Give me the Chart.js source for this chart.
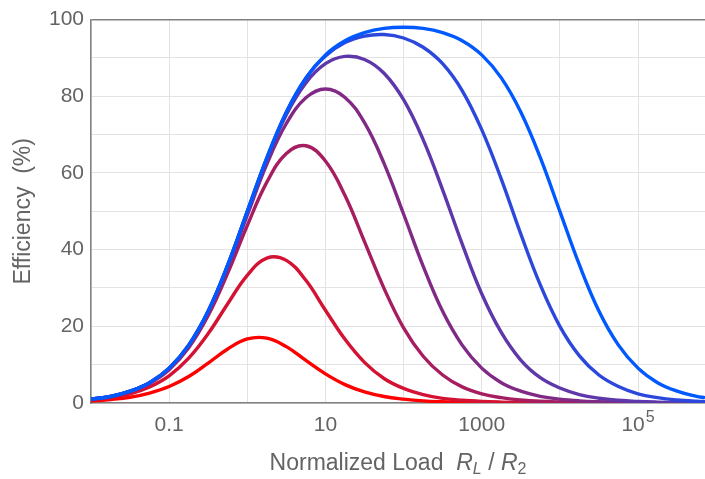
<!DOCTYPE html>
<html>
<head>
<meta charset="utf-8">
<script src="https://cdn.jsdelivr.net/npm/chart.js@4"></script>
<style>
  html, body { margin: 0; padding: 0; background: #fff; }
  canvas { display: block; }
</style>
</head>
<body>
<canvas id="myChart" width="705" height="479"></canvas>
<script>
// Normalized load R_L / R_2 (log axis)
const loads = [0.01, 0.0178, 0.0316, 0.0562, 0.1, 0.178, 0.316, 0.562, 1, 1.78, 3.16, 5.62,
  10, 17.8, 31.6, 56.2, 100, 178, 316, 562, 1000, 1780, 3160, 5620,
  10000, 17800, 31600, 56200, 100000, 178000, 316000, 562000, 720000]

// Efficiency (%), red (lowest) to blue (highest)
const eff1 = [0.5, 0.9, 1.5, 2.6, 4.3, 6.9, 10.4, 14.1, 16.7, 16.9, 14.7, 11.1,
  7.6, 4.8, 2.9, 1.7, 1.0, 0.55, 0.32, 0.18, 0.1, 0.06, 0.03, 0.02,
  0.01, 0, 0, 0, 0, 0, 0, 0, 0]
const eff2 = [0.8, 1.4, 2.4, 4.2, 7.1, 11.7, 18.1, 25.9, 33.3, 37.8, 37.2, 32.0,
  24.2, 16.6, 10.6, 6.4, 3.8, 2.2, 1.2, 0.7, 0.4, 0.23, 0.13, 0.07,
  0.04, 0.02, 0.01, 0, 0, 0, 0, 0, 0]
const eff3 = [0.95, 1.7, 2.9, 5.1, 8.7, 14.4, 22.8, 33.9, 46.3, 57.6, 65.1, 67.1,
  63.1, 54.1, 42.1, 29.9, 19.6, 12.2, 7.3, 4.2, 2.4, 1.4, 0.8, 0.44,
  0.25, 0.14, 0.08, 0.04, 0.03, 0.01, 0, 0, 0]
const eff4 = [1.0, 1.7, 3.0, 5.3, 9.0, 14.9, 23.7, 35.4, 49.0, 62.3, 72.9, 79.6,
  81.9, 79.7, 73.1, 62.5, 49.3, 35.7, 23.9, 15.1, 9.1, 5.3, 3.1, 1.75,
  1.0, 0.56, 0.32, 0.18, 0.1, 0.06, 0.03, 0.02, 0.01]
const eff5 = [1.0, 1.7, 3.1, 5.3, 9.1, 15.1, 23.9, 35.9, 49.8, 63.6, 75.2, 83.5,
  88.5, 90.4, 89.6, 86.0, 79.1, 68.7, 55.6, 41.5, 28.5, 18.4, 11.2, 6.6,
  3.9, 2.2, 1.25, 0.7, 0.4, 0.23, 0.13, 0.07, 0.06]
const eff6 = [1.0, 1.7, 3.1, 5.3, 9.1, 15.1, 24.0, 36.0, 50.0, 63.9, 75.8, 84.7,
  90.5, 94.0, 95.7, 96.1, 95.2, 92.8, 88.5, 81.5, 71.3, 58.4, 44.1, 30.8,
  20.0, 12.3, 7.3, 4.3, 2.4, 1.4, 0.8, 0.44, 0.35]
const eff7 = [1.0, 1.7, 3.1, 5.3, 9.1, 15.1, 24.0, 36.0, 50.0, 64.0, 75.9, 84.8,
  90.8, 94.5, 96.6, 97.7, 98.0, 97.7, 96.6, 94.5, 90.8, 84.8, 75.9, 64.0,
  50.0, 36.0, 24.0, 15.1, 9.1, 5.3, 3.1, 1.75, 1.4]

const series = [eff1, eff2, eff3, eff4, eff5, eff6, eff7]
const colors = ['rgb(255,0,0)', 'rgb(212,18,52)', 'rgb(166,30,96)', 'rgb(128,42,134)',
  'rgb(94,56,170)', 'rgb(44,72,220)', 'rgb(0,88,255)']

// labelled x ticks; the last one is drawn as 10 with a raised 5
const xTickValues = [0.1, 10, 1000]
const xTickLabels = ['0.1', '10', '1000']
const xPowerTick = { value: 100000, base: '10', exp: '5' }
const xGridValues = [0.01, 0.1, 1, 10, 100, 1000, 10000, 100000]

const FONT = 'Liberation Sans, Arial, sans-serif'
const TEXT = '#646464'
const GRID = '#e3e3e3'
const AXIS = '#808080'

// x axis title with italic R and subscripts, plus the 10^5 tick label
const xTitle = {
  id: 'xTitle',
  afterDraw (chart) {
    const { ctx, chartArea } = chart
    const sx = chart.scales.x
    const parts = [
      { t: 'Normalized Load  ', f: '23px ' + FONT, dy: 0 },
      { t: 'R', f: 'italic 23px ' + FONT, dy: 0 },
      { t: 'L', f: 'italic 16px ' + FONT, dy: 6 },
      { t: ' / ', f: '23px ' + FONT, dy: 0 },
      { t: 'R', f: 'italic 23px ' + FONT, dy: 0 },
      { t: '2', f: '16px ' + FONT, dy: 6 }
    ]
    ctx.save()
    ctx.fillStyle = TEXT
    ctx.textBaseline = 'middle'
    ctx.textAlign = 'left'
    let w = 0
    parts.forEach(p => { ctx.font = p.f; p.w = ctx.measureText(p.t).width; w += p.w })
    let x = (chartArea.left + chartArea.right) / 2 - w / 2
    const y = sx.bottom - 15
    parts.forEach(p => { ctx.font = p.f; ctx.fillText(p.t, x, y + p.dy); x += p.w })

    // 10^5
    const px = sx.getPixelForValue(xPowerTick.value)
    const ty = sx.top + 22
    ctx.font = '21px ' + FONT
    const bw = ctx.measureText(xPowerTick.base).width
    ctx.font = '16px ' + FONT
    const ew = ctx.measureText(xPowerTick.exp).width
    const x0 = px - (bw + ew + 1) / 2
    ctx.font = '21px ' + FONT
    ctx.fillText(xPowerTick.base, x0, ty)
    ctx.font = '16px ' + FONT
    ctx.fillText(xPowerTick.exp, x0 + bw + 1, ty - 7)
    ctx.restore()
  }
}

const ctx = document.getElementById('myChart')
// eslint-disable-next-line no-unused-vars
const myChart = new Chart(ctx, {
  type: 'line',
  data: {
    datasets: series.map((s, i) => ({
      data: loads.map((x, j) => ({ x, y: s[j] })),
      borderColor: colors[i],
      borderWidth: 3.4,
      pointRadius: 0,
      fill: false,
      tension: 0.4,
      order: series.length - i
    }))
  },
  options: {
    responsive: false,
    animation: false,
    devicePixelRatio: 1,
    layout: { padding: { top: 18, right: 0, left: 0, bottom: 0 } },
    plugins: { legend: { display: false }, tooltip: { enabled: false } },
    scales: {
      x: {
        type: 'logarithmic',
        min: 0.01,
        max: 720000,
        afterBuildTicks: s => { s.ticks = xGridValues.map(v => ({ value: v })) },
        afterFit: s => { s.height = 76 },
        ticks: {
          autoSkip: false,
          maxRotation: 0,
          padding: 10,
          color: TEXT,
          font: { family: FONT, size: 21 },
          callback: v => {
            const k = xTickValues.findIndex(t => Math.abs(Math.log10(t) - Math.log10(v)) < 1e-6)
            return k >= 0 ? xTickLabels[k] : ''
          }
        },
        grid: { color: GRID, drawTicks: false },
        border: { color: AXIS, width: 1.5 }
      },
      y: {
        min: 0,
        max: 100,
        afterFit: s => { s.width = 91 },
        ticks: {
          stepSize: 5,
          padding: 7,
          color: TEXT,
          font: { family: FONT, size: 21 },
          callback: v => (v % 20 === 0 ? v : '')
        },
        grid: {
          drawTicks: false,
          color: c => (c.tick && c.tick.value === 100 ? AXIS : GRID),
          lineWidth: c => (c.tick && c.tick.value === 100 ? 1.5 : 1)
        },
        border: { color: AXIS, width: 1.5 },
        title: {
          display: true,
          text: 'Efficiency  (%)',
          color: TEXT,
          font: { family: FONT, size: 23 },
          padding: { top: 10, bottom: 0 }
        }
      }
    }
  },
  plugins: [xTitle]
})
</script>
</body>
</html>
